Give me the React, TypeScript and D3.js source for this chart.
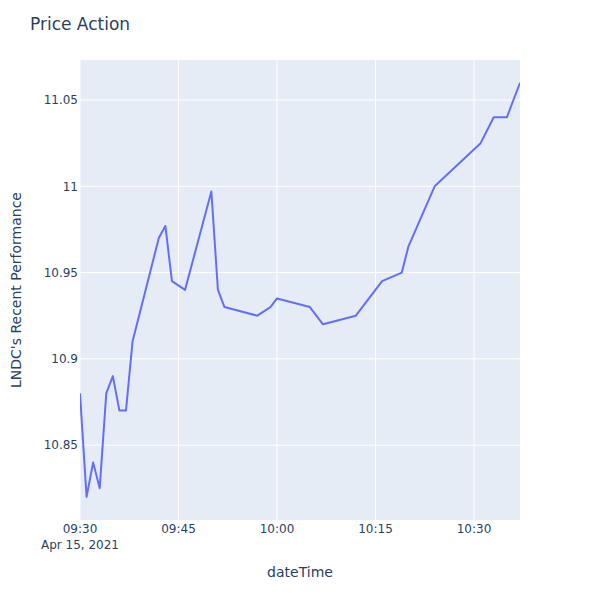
import React from "react";
import * as d3 from "d3";

const minutes = [0, 1, 2, 3, 4, 5, 6, 7, 8, 12, 13, 14, 16, 20, 21, 22, 27, 29, 30, 35, 37, 42, 46, 49, 50, 54, 61, 63, 65, 67];
const prices = [10.88, 10.82, 10.84, 10.825, 10.88, 10.89, 10.87, 10.87, 10.91, 10.97, 10.977, 10.945, 10.94, 10.997, 10.94, 10.93, 10.925, 10.93, 10.935, 10.93, 10.92, 10.925, 10.945, 10.95, 10.965, 11.0, 11.025, 11.04, 11.04, 11.06];
const yTicks = [10.85, 10.9, 10.95, 11, 11.05];
const xTickMinutes = [0, 15, 30, 45, 60];

const base = new Date(2021, 3, 15, 9, 30);
const toDate = (m: number) => new Date(base.getTime() + m * 60000);

export default function App() {
  const W = 600, H = 600;
  const left = 80, right = 520, top = 60, bottom = 520;
  const x = d3.scaleTime().domain([toDate(0), toDate(67)]).range([left, right]);
  const y = d3.scaleLinear().domain([10.8066, 11.0732]).range([bottom, top]);
  const data = minutes.map((m, i) => ({ d: toDate(m), v: prices[i] }));
  const line = d3.line<{ d: Date; v: number }>().x(p => x(p.d)).y(p => y(p.v));
  const fmtTime = d3.timeFormat("%H:%M");
  const font = "'DejaVu Sans', Verdana, sans-serif";
  const c = "#2a3f5f";
  return (
    <svg width={W} height={H} style={{ position: "absolute", left: 0, top: 0, background: "#fff" }} fontFamily={font}>
      <rect x={left} y={top} width={right - left} height={bottom - top} fill="#E5ECF6" />
      {xTickMinutes.map(m => (
        <line key={"gx" + m} x1={x(toDate(m))} x2={x(toDate(m))} y1={top} y2={bottom} stroke="#fff" strokeWidth={1} />
      ))}
      {yTicks.map(t => (
        <line key={"gy" + t} x1={left} x2={right} y1={y(t)} y2={y(t)} stroke="#fff" strokeWidth={1} />
      ))}
      <defs>
        <clipPath id="plotclip">
          <rect x={left} y={top} width={right - left} height={bottom - top} />
        </clipPath>
      </defs>
      <path d={line(data) || ""} fill="none" stroke="#636efa" strokeWidth={2} strokeLinejoin="round" clipPath="url(#plotclip)" />
      {yTicks.map(t => (
        <text key={"ty" + t} x={left - 2} y={y(t)} dy="0.35em" textAnchor="end" fontSize={12} fill={c}>
          {d3.format("~g")(t)}
        </text>
      ))}
      {xTickMinutes.map(m => (
        <text key={"tx" + m} x={x(toDate(m))} y={533} textAnchor="middle" fontSize={12} fill={c}>
          {fmtTime(toDate(m))}
        </text>
      ))}
      <text x={x(toDate(0))} y={549} textAnchor="middle" fontSize={12} fill={c}>Apr 15, 2021</text>
      <text x={300} y={577} textAnchor="middle" fontSize={14} fill={c}>dateTime</text>
      <text transform={`translate(21,290) rotate(-90)`} textAnchor="middle" fontSize={14} fill={c}>
        LNDC's Recent Performance
      </text>
      <text x={30} y={30} fontSize={17} fill={c}>Price Action</text>
    </svg>
  );
}
